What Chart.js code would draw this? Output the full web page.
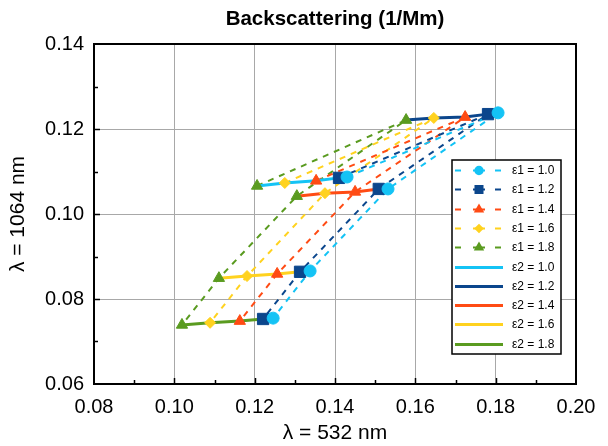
<!DOCTYPE html>
<html>
<head>
<meta charset="utf-8">
<script src="https://cdn.jsdelivr.net/npm/chart.js@4/dist/chart.umd.min.js"></script>
<style>
  html, body { margin: 0; padding: 0; background: #fff; }
  canvas { display: block; }
</style>
</head>
<body>
<canvas id="chart" width="608" height="446"></canvas>
<script>
// ε values (both parameters use the same set)
const epsLabels = ['1.0', '1.2', '1.4', '1.6', '1.8'];

// Backscattering (1/Mm) at 532 nm and 1064 nm.
// One pair of arrays per ε2 value; entries follow ε1 = 1.0, 1.2, 1.4, 1.6, 1.8
const b532_e2_10  = [0.1430, 0.1410, 0.1353, 0.1275, 0.1206];
const b1064_e2_10 = [0.1087, 0.1085, 0.1078, 0.1073, 0.1066];
const b532_e2_12  = [0.1806, 0.1781, 0.1724, 0.1646, 0.1577];
const b1064_e2_12 = [0.1238, 0.1235, 0.1228, 0.1226, 0.1221];
const b532_e2_14  = [0.1532, 0.1509, 0.1450, 0.1375, 0.1305];
const b1064_e2_14 = [0.1059, 0.1059, 0.1052, 0.1049, 0.1042];
const b532_e2_16  = [0.1338, 0.1313, 0.1256, 0.1181, 0.1111];
const b1064_e2_16 = [0.0866, 0.0864, 0.0859, 0.0854, 0.0849];
const b532_e2_18  = [0.1246, 0.1221, 0.1163, 0.1089, 0.1019];
const b1064_e2_18 = [0.0755, 0.0753, 0.0748, 0.0744, 0.0739];

// Axis ticks
const xTicks = [0.08, 0.10, 0.12, 0.14, 0.16, 0.18, 0.20];
const yTicks = [0.06, 0.08, 0.10, 0.12, 0.14];
const xMinorTicks = [0.09, 0.11, 0.13, 0.15, 0.17, 0.19];
const yMinorTicks = [0.07, 0.09, 0.11, 0.13];

const rows532  = [b532_e2_10, b532_e2_12, b532_e2_14, b532_e2_16, b532_e2_18];
const rows1064 = [b1064_e2_10, b1064_e2_12, b1064_e2_14, b1064_e2_16, b1064_e2_18];

const colors = ['#14C3F5', '#0B468C', '#FF4B14', '#FFD21F', '#5A9B20'];
const markerStyles = ['circle', 'rect', 'triangle', 'rectRot', 'triangle'];
const markerRadius = [6, 8, 6.5, 5.5, 6.5];

const FONT = "'Liberation Sans', Arial, Helvetica, sans-serif";

// series along ε2 for a fixed ε1
function e1Points(i) {
  return rows532.map((row, k) => ({ x: row[i], y: rows1064[k][i] }));
}
// series along ε1 for a fixed ε2
function e2Points(k) {
  return rows532[k].map((x, i) => ({ x: x, y: rows1064[k][i] }));
}

const datasets = [];
// dashed ε1 lines (bottom layer)
epsLabels.forEach((e, i) => {
  datasets.push({
    label: 'ε1 = ' + e, data: e1Points(i), showLine: true,
    borderColor: colors[i], borderWidth: 2, borderDash: [6, 6],
    pointRadius: 0, pointHoverRadius: 0, order: 3
  });
});
// solid ε2 lines
epsLabels.forEach((e, k) => {
  datasets.push({
    label: 'ε2 = ' + e, data: e2Points(k), showLine: true,
    borderColor: colors[k], borderWidth: 3,
    pointRadius: 0, pointHoverRadius: 0, order: 2
  });
});
// ε1 markers on top
epsLabels.forEach((e, i) => {
  datasets.push({
    label: 'ε1 = ' + e + ' markers', data: e1Points(i), showLine: false,
    backgroundColor: colors[i], borderColor: colors[i], borderWidth: 1,
    pointStyle: markerStyles[i], pointRadius: markerRadius[i], pointHoverRadius: markerRadius[i],
    order: 1
  });
});

// frame and inward tick marks
const framePlugin = {
  id: 'frame',
  beforeDatasetsDraw(chart) {
    const { ctx, chartArea: a, scales: { x, y } } = chart;
    ctx.save();
    ctx.strokeStyle = '#000';
    ctx.lineWidth = 1.5;
    ctx.beginPath();
    xTicks.slice(1, -1).forEach(v => {
      const px = Math.round(x.getPixelForValue(v)) + 0.5;
      ctx.moveTo(px, a.bottom); ctx.lineTo(px, a.bottom - 6);
    });
    xMinorTicks.forEach(v => {
      const px = Math.round(x.getPixelForValue(v)) + 0.5;
      ctx.moveTo(px, a.bottom); ctx.lineTo(px, a.bottom - 4);
    });
    yTicks.slice(1, -1).forEach(v => {
      const py = Math.round(y.getPixelForValue(v)) + 0.5;
      ctx.moveTo(a.left, py); ctx.lineTo(a.left + 6, py);
    });
    yMinorTicks.forEach(v => {
      const py = Math.round(y.getPixelForValue(v)) + 0.5;
      ctx.moveTo(a.left, py); ctx.lineTo(a.left + 4, py);
    });
    ctx.stroke();
    ctx.lineWidth = 2;
    ctx.strokeRect(a.left, a.top, a.right - a.left, a.bottom - a.top);
    ctx.restore();
  }
};

// boxed legend inside the plot, lower right
const legendPlugin = {
  id: 'boxLegend',
  afterDraw(chart) {
    const { ctx } = chart;
    const bx = 452, by = 160, bw = 109, bh = 194;
    ctx.save();
    ctx.fillStyle = '#fff';
    ctx.fillRect(bx, by, bw, bh);
    ctx.strokeStyle = '#000';
    ctx.lineWidth = 1.5;
    ctx.strokeRect(bx, by, bw, bh);
    ctx.font = '12px ' + FONT;
    ctx.textBaseline = 'middle';
    ctx.textAlign = 'left';
    const x0 = 455, x1 = 503, xm = 479;
    for (let n = 0; n < 10; n++) {
      const cy = Math.round(170 + n * 19.3) + 0.5;
      const k = n % 5;
      ctx.strokeStyle = colors[k];
      ctx.fillStyle = colors[k];
      if (n < 5) {
        ctx.lineWidth = 2;
        ctx.beginPath();
        ctx.moveTo(x0, cy); ctx.lineTo(x0 + 6, cy);
        ctx.moveTo(xm - 6, cy); ctx.lineTo(xm + 6, cy);
        ctx.moveTo(x1 - 8, cy); ctx.lineTo(x1 - 2, cy);
        ctx.stroke();
        Chart.helpers.drawPoint(ctx, {
          pointStyle: markerStyles[k], radius: markerRadius[k] * 0.62,
          rotation: 0, borderWidth: 1
        }, xm, cy);
      } else {
        ctx.lineWidth = 3;
        ctx.beginPath();
        ctx.moveTo(x0, cy); ctx.lineTo(x1, cy);
        ctx.stroke();
      }
      ctx.fillStyle = '#000';
      ctx.fillText((n < 5 ? 'ε1 = ' : 'ε2 = ') + epsLabels[k], 512, cy);
    }
    ctx.restore();
  }
};

new Chart(document.getElementById('chart'), {
  type: 'scatter',
  data: { datasets },
  options: {
    responsive: false,
    animation: false,
    devicePixelRatio: 1,
    layout: { padding: { left: 0, right: 32, top: 0, bottom: 0 } },
    plugins: {
      legend: { display: false },
      tooltip: { enabled: false },
      title: {
        display: true,
        fullSize: false,
        text: 'Backscattering (1/Mm)',
        color: '#000',
        font: { family: FONT, size: 20.5, weight: 'bold' },
        padding: { top: 7.5, bottom: 11.9 }
      }
    },
    scales: {
      x: {
        type: 'linear', min: 0.08, max: 0.20,
        afterBuildTicks: s => { s.ticks = xTicks.map(v => ({ value: v })); },
        afterFit: s => { s.height = 62; },
        grid: { color: '#A8A8A8', lineWidth: 1, drawTicks: false },
        border: { display: false },
        ticks: {
          autoSkip: false, maxRotation: 0, padding: 11, color: '#000',
          font: { family: FONT, size: 20 },
          callback: v => Number(v).toFixed(2)
        },
        title: {
          display: true, text: 'λ = 532 nm', color: '#000',
          font: { family: FONT, size: 21 }, padding: { top: 0, bottom: 0 }
        }
      },
      y: {
        type: 'linear', min: 0.06, max: 0.14,
        afterBuildTicks: s => { s.ticks = yTicks.map(v => ({ value: v })); },
        afterFit: s => { s.width = 94; },
        grid: { color: '#A8A8A8', lineWidth: 1, drawTicks: false },
        border: { display: false },
        ticks: {
          autoSkip: false, padding: 10, color: '#000',
          font: { family: FONT, size: 20 },
          callback: v => Number(v).toFixed(2)
        },
        title: {
          display: true, text: 'λ = 1064 nm', color: '#000',
          font: { family: FONT, size: 21 }, padding: { top: 6, bottom: 0 }
        }
      }
    }
  },
  plugins: [framePlugin, legendPlugin]
});
</script>
</body>
</html>
